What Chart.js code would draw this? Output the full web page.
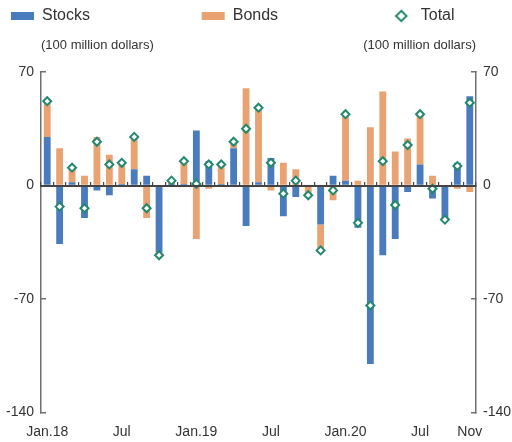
<!DOCTYPE html>
<html>
<head>
<meta charset="utf-8">
<title>Portfolio investment flows</title>
<script src="https://cdn.jsdelivr.net/npm/chart.js@4.4.1/dist/chart.umd.min.js"></script>
<style>
  html, body { margin: 0; padding: 0; background: #fff; }
  canvas { display: block; }
</style>
</head>
<body>
<canvas id="flowChart" width="512" height="442"></canvas>
<script>
// Monthly categories, Jan 2018 - Nov 2020
const months = [
  'Jan.18', 'Feb', 'Mar', 'Apr', 'May', 'Jun', 'Jul', 'Aug', 'Sep', 'Oct', 'Nov', 'Dec',
  'Jan.19', 'Feb', 'Mar', 'Apr', 'May', 'Jun', 'Jul', 'Aug', 'Sep', 'Oct', 'Nov', 'Dec',
  'Jan.20', 'Feb', 'Mar', 'Apr', 'May', 'Jun', 'Jul', 'Aug', 'Sep', 'Oct', 'Nov'
];
// only these months get a label under the axis
const labelledMonths = [0, 6, 12, 18, 24, 30, 34];

// 100 million dollars
const stocks = [30, -36, 2, -20, -3, -6, 1, 10, 6, -41, 1, 1,
                34, 15, 1, 23, -25, 2, 17, -19, -7, 0, -24, 6,
                3, -26, -110, -43, -33, -4, 13, -8, -21, 14, 55];
const bonds  = [22, 23, 9, 6, 30, 19, 13, 20, -20, -2, 2, 14,
                -33, -2, 12, 4, 60, 46, -3, 14, 10, -6, -16, -9,
                41, 3, 36, 58, 21, 29, 31, 6, 0, -2, -4];
const total  = [52, -13, 11, -14, 27, 13, 14, 30, -14, -43, 3, 15,
                1, 13, 13, 27, 35, 48, 14, -5, 3, -6, -40, -3,
                44, -23, -74, 15, -12, 25, 44, -2, -21, 12, 51];

const yTicks = [70, 0, -70, -140];

const BLUE = '#4a7bbd';
const ORANGE = '#e9a271';
const TEAL = '#23886e';
const AXIS = '#707070';
const INK = '#333';

Chart.defaults.font.family = "'Liberation Sans', Arial, sans-serif";
Chart.defaults.color = INK;

// small diamond used as the legend symbol for the total series
function diamondIcon() {
  const c = document.createElement('canvas');
  c.width = 14;
  c.height = 14;
  const g = c.getContext('2d');
  g.beginPath();
  g.moveTo(7, 1.8);
  g.lineTo(12.2, 7);
  g.lineTo(7, 12.2);
  g.lineTo(1.8, 7);
  g.closePath();
  g.fillStyle = '#fff';
  g.fill();
  g.lineWidth = 2;
  g.strokeStyle = TEAL;
  g.stroke();
  return c;
}

// legend entries sit in fixed-width columns, so the names are padded out
const legendText = ['Stocks'.padEnd(30), 'Bonds'.padEnd(29), 'Total'];

function valueAxis(position) {
  return {
    position: position,
    stacked: true,
    min: Math.min(...yTicks),
    max: Math.max(...yTicks),
    afterBuildTicks: axis => { axis.ticks = yTicks.map(v => ({ value: v })); },
    afterFit: axis => { axis.width = 35; },
    grid: { drawOnChartArea: false, drawTicks: true, tickLength: -5, color: AXIS, lineWidth: 1.5 },
    border: { color: AXIS, width: 1.5 },
    ticks: { padding: 12, color: INK, font: { size: 14 } }
  };
}

new Chart(document.getElementById('flowChart'), {
  type: 'bar',
  data: {
    labels: months,
    datasets: [{
      label: 'Stocks',
      data: stocks,
      backgroundColor: BLUE,
      stack: 'flows',
      barPercentage: 0.55,
      categoryPercentage: 1
    }, {
      label: 'Bonds',
      data: bonds,
      backgroundColor: ORANGE,
      stack: 'flows',
      barPercentage: 0.55,
      categoryPercentage: 1
    }, {
      type: 'line',
      label: 'Total',
      data: total,
      stack: 'total',
      order: -1,
      showLine: false,
      pointStyle: 'rectRot',
      pointRadius: 4,
      pointBorderWidth: 2,
      pointBackgroundColor: '#fff',
      pointBorderColor: TEAL
    }]
  },
  options: {
    responsive: false,
    animation: false,
    layout: { padding: { top: 3, left: 6, right: 1, bottom: 1 } },
    scales: {
      x: {
        stacked: true,
        offset: true,
        afterFit: axis => { axis.height = 28.4; },
        grid: { display: false, drawTicks: false },
        border: { display: false },
        ticks: {
          autoSkip: false,
          maxRotation: 0,
          padding: 11,
          color: INK,
          font: { size: 14 },
          callback: (value, index) => labelledMonths.includes(index) ? months[index] : ''
        }
      },
      // zero line with month ticks
      zero: {
        type: 'category',
        axis: 'x',
        position: { y: 0 },
        offset: true,
        grid: { offset: true, drawOnChartArea: false, drawTicks: true, tickLength: -5, color: '#444', lineWidth: 1.2, z: 1 },
        border: { color: '#444', width: 2, z: 1 },
        ticks: { display: false }
      },
      y: valueAxis('left'),
      y2: valueAxis('right')
    },
    plugins: {
      legend: {
        align: 'start',
        labels: {
          usePointStyle: true,
          pointStyleWidth: 23,
          boxHeight: 8,
          padding: 5,
          color: INK,
          font: { size: 16 },
          sort: (a, b) => a.datasetIndex - b.datasetIndex,
          generateLabels(chart) {
            const items = Chart.defaults.plugins.legend.labels.generateLabels(chart);
            items.forEach(item => {
              item.text = legendText[item.datasetIndex];
              item.pointStyle = item.datasetIndex === 2 ? diamondIcon() : 'rect';
            });
            return items;
          }
        }
      },
      subtitle: {
        display: true,
        text: '(100 million dollars)',
        align: 'end',
        fullSize: false,
        weight: 600,
        color: INK,
        font: { size: 13, weight: 'normal' },
        padding: { top: 4, bottom: -19.6 }
      },
      title: {
        display: true,
        text: '(100 million dollars)',
        align: 'start',
        fullSize: false,
        weight: 500,
        color: INK,
        font: { size: 13, weight: 'normal' },
        padding: { top: 4, bottom: 18.4 }
      },
      tooltip: { enabled: false }
    }
  }
});
</script>
</body>
</html>
